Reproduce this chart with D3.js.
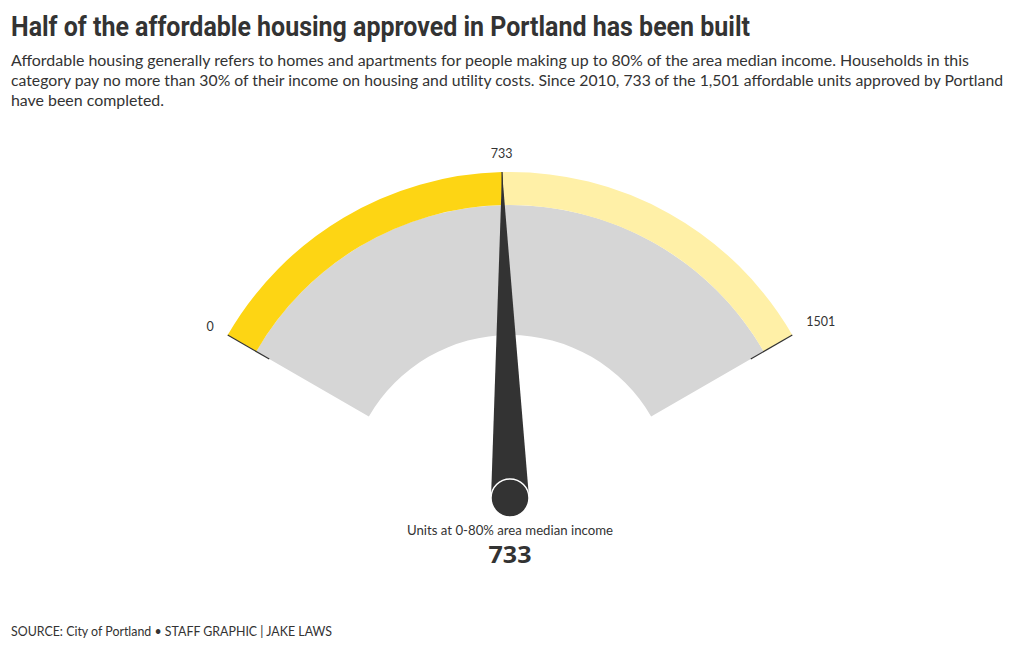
<!DOCTYPE html>
<html><head><meta charset="utf-8">
<script src="https://cdn.jsdelivr.net/npm/d3@7"></script>
<style>
html,body{margin:0;padding:0;background:#fff;}
svg{display:block;}
</style></head>
<body>
<svg id="chart" width="1020" height="650"></svg>
<script>
const title = "Half of the affordable housing approved in Portland has been built";
const subtitleLines = [
  "Affordable housing generally refers to homes and apartments for people making up to 80% of the area median income. Households in this",
  "category pay no more than 30% of their income on housing and utility costs. Since 2010, 733 of the 1,501 affordable units approved by Portland",
  "have been completed."
];
const source = "SOURCE: City of Portland \u2022 STAFF GRAPHIC | JAKE LAWS";
const gaugeMin = 0;
const gaugeMax = 1501;
const gaugeValue = 733;
const tickValues = [0, 733, 1501];
const valueLabel = "Units at 0-80% area median income";

const svg = d3.select("#chart");
const bodyFont = "'Source Sans Pro','Lato','Noto Sans',sans-serif";

svg.append("text").attr("x", 11).attr("y", 36)
  .attr("font-family", "Roboto, sans-serif").attr("font-weight", 700)
  .attr("font-size", 27).attr("fill", "#333")
  .attr("textLength", 739).attr("lengthAdjust", "spacingAndGlyphs")
  .text(title);

const subLens = [958, 992, 153];
subtitleLines.forEach((l, i) => {
  svg.append("text").attr("x", 11).attr("y", 66 + i * 20)
    .attr("font-family", bodyFont).attr("font-size", 15.5).attr("fill", "#333")
    .attr("textLength", subLens[i]).attr("lengthAdjust", "spacingAndGlyphs")
    .text(l);
});

svg.append("text").attr("x", 11).attr("y", 636)
  .attr("font-family", bodyFont).attr("font-size", 12.5).attr("fill", "#333")
  .attr("textLength", 321).attr("lengthAdjust", "spacingAndGlyphs")
  .text(source);

const cx = 510, cy = 498;
const rOuter = 326, rBand = 293, rInner = 163;
const ang = d3.scaleLinear().domain([gaugeMin, gaugeMax]).range([-Math.PI / 3, Math.PI / 3]);

const g = svg.append("g").attr("transform", `translate(${cx},${cy})`);

g.append("path")
  .attr("d", d3.arc()({innerRadius: rInner, outerRadius: rBand, startAngle: ang(gaugeMin), endAngle: ang(gaugeMax)}))
  .attr("fill", "#d6d6d6");
g.append("path")
  .attr("d", d3.arc()({innerRadius: rBand, outerRadius: rOuter, startAngle: ang(gaugeValue), endAngle: ang(gaugeMax)}))
  .attr("fill", "#fff0a7");
g.append("path")
  .attr("d", d3.arc()({innerRadius: rBand, outerRadius: rOuter, startAngle: ang(gaugeMin), endAngle: ang(gaugeValue)}))
  .attr("fill", "#fdd514");

tickValues.forEach(v => {
  const a = ang(v);
  const s = Math.sin(a), c = -Math.cos(a);
  g.append("line")
    .attr("x1", s * rOuter).attr("y1", c * rOuter)
    .attr("x2", s * 278).attr("y2", c * 278)
    .attr("stroke", "#333").attr("stroke-width", 1.2);
  const anchor = v === gaugeMin ? "end" : (v === gaugeMax ? "start" : "middle");
  const rl = v === gaugeValue ? 345 : 342;
  const dy = v === gaugeMax ? -6 : (v === gaugeMin ? -1 : 0);
  g.append("text")
    .attr("x", s * rl).attr("y", c * rl + dy)
    .attr("text-anchor", anchor).attr("dominant-baseline", "central")
    .attr("font-family", bodyFont).attr("font-size", 12.5).attr("fill", "#333")
    .text(v);
});

const na = ang(gaugeValue);
const tipX = Math.sin(na) * rOuter, tipY = -Math.cos(na) * rOuter;
const pr = 19;
const px = Math.cos(na) * pr, py = Math.sin(na) * pr;
g.append("path")
  .attr("d", `M${tipX},${tipY}L${px},${py}L${-px},${-py}Z`)
  .attr("fill", "#333");
g.append("circle").attr("r", pr).attr("fill", "#333")
  .attr("stroke", "#fff").attr("stroke-width", 1.5);

svg.append("text").attr("x", cx).attr("y", 535).attr("text-anchor", "middle")
  .attr("font-family", bodyFont).attr("font-size", 13).attr("fill", "#333")
  .attr("textLength", 206).attr("lengthAdjust", "spacingAndGlyphs")
  .text(valueLabel);
svg.append("text").attr("x", cx).attr("y", 563).attr("text-anchor", "middle")
  .attr("font-family", "'Noto Sans', sans-serif").attr("font-weight", 700).attr("font-size", 24).attr("fill", "#333")
  .attr("textLength", 43).attr("lengthAdjust", "spacingAndGlyphs")
  .text(String(gaugeValue));
</script>
</body></html>
